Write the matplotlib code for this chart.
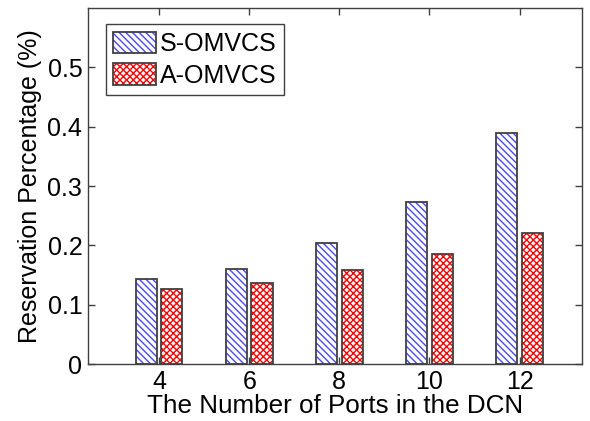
import numpy as np
import matplotlib
matplotlib.use("Agg")
import matplotlib.pyplot as plt
from matplotlib.patches import Patch
from matplotlib.legend_handler import HandlerTuple

plt.rcParams['font.family'] = ['Liberation Sans', 'DejaVu Sans']
plt.rcParams['hatch.linewidth'] = 1.0

ports = ['4', '6', '8', '10', '12']
s_omvcs = [0.144, 0.161, 0.204, 0.273, 0.389]
a_omvcs = [0.127, 0.137, 0.159, 0.186, 0.221]

x = np.arange(len(ports)) + 1
w = 0.235
off = 0.142
edge = '#404040'
blue_hatch = '\\' * 5
red_hatch = 'xxxxx'
fs = 18

fig = plt.figure(figsize=(5.9, 4.21), dpi=100)
ax = fig.add_axes([0.149, 0.135, 0.837, 0.846])

# hatched fills first, then plain outlines on top so the hatch keeps its own colour
ax.bar(x - off, s_omvcs, w, color='white', edgecolor='#4848ff', hatch=blue_hatch, linewidth=0)
ax.bar(x + off, a_omvcs, w, color='white', edgecolor='#ff0000', hatch=red_hatch, linewidth=0)
ax.bar(x - off, s_omvcs, w, color='none', edgecolor=edge, linewidth=1.3)
ax.bar(x + off, a_omvcs, w, color='none', edgecolor=edge, linewidth=1.3)

ax.set_xlim(0.21, 5.69)
ax.set_ylim(0, 0.6)
ax.set_xticks(x)
ax.set_xticklabels(ports)
ax.set_yticks([0, 0.1, 0.2, 0.3, 0.4, 0.5])
ax.set_yticklabels(['0', '0.1', '0.2', '0.3', '0.4', '0.5'])
ax.tick_params(direction='in', top=True, right=True, length=5, width=1,
               color=edge, labelsize=fs, pad=4)
for sp in ax.spines.values():
    sp.set_color(edge)
    sp.set_linewidth(1.0)

ax.set_xlabel('The Number of Ports in the DCN', fontsize=18.7, labelpad=0)
ax.set_ylabel('Reservation Percentage (%)', fontsize=fs, labelpad=4)

h_s = (Patch(facecolor='white', edgecolor='#4848ff', hatch=blue_hatch, linewidth=0),
       Patch(facecolor='none', edgecolor=edge, linewidth=1.3))
h_a = (Patch(facecolor='white', edgecolor='#ff0000', hatch=red_hatch, linewidth=0),
       Patch(facecolor='none', edgecolor=edge, linewidth=1.3))
leg = ax.legend([h_s, h_a], ['S-OMVCS', 'A-OMVCS'],
                handler_map={tuple: HandlerTuple(ndivide=1)},
                loc='upper left', bbox_to_anchor=(0.036, 0.955),
                fontsize=fs, fancybox=False, framealpha=1,
                edgecolor=edge, handlelength=1.72, handleheight=0.96,
                handletextpad=0.16, borderpad=0.3, labelspacing=0.3,
                borderaxespad=0)
leg.get_frame().set_linewidth(1.0)

fig.savefig('out.png', dpi=100)
